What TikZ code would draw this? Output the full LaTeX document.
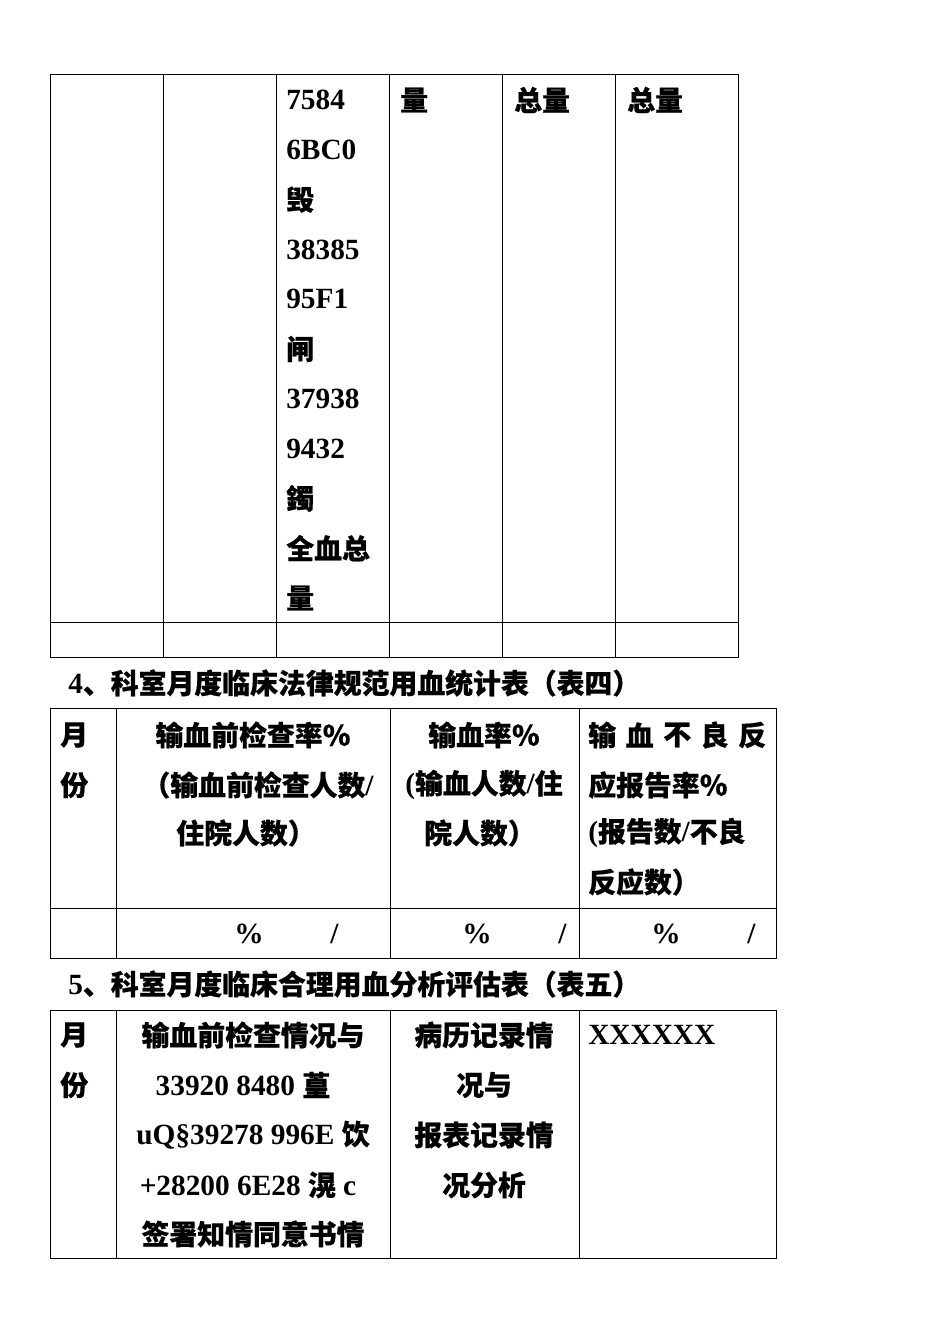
\documentclass[tikz,border=0pt]{standalone}
\usepackage{fontspec}
\setmainfont{Liberation Serif}
\newfontfamily\cjk{Noto Sans CJK SC}[FakeBold=0.5,Scale=0.95]
\newcommand\C[1]{{\cjk #1}}
\begin{document}
\begin{tikzpicture}[x=0.75pt,y=-0.75pt,
  tx/.style={anchor=west,inner sep=0pt,font=\fontsize{22}{22}\selectfont\bfseries},
  tc/.style={anchor=center,inner sep=0pt,font=\fontsize{22}{22}\selectfont\bfseries},
  ln/.style={line width=0.6pt}]
\useasboundingbox (0,0) rectangle (950,1344);
% table 1
\draw[ln] (50,74) rectangle (738,657);
\foreach \x in {163,276,389,502,615} \draw[ln] (\x,74) -- (\x,657);
\draw[ln] (50,622) -- (738,622);
\foreach \t [count=\i from 0] in {7584,6BC0,\C{毁},38385,95F1,\C{闸},37938,9432,\C{鐲},\C{全血总},\C{量}}
  \node[tx] (a\i) at (286,{100+49.8*\i}) {\t};
\node[tx] (b1) at (400,100) {\C{量}};
\node[tx] (b2) at (514,100) {\C{总量}};
\node[tx] (b3) at (627,100) {\C{总量}};
% heading 4
\node[tx] (h4) at (68,683) {4\C{、科室月度临床法律规范用血统计表（表四）}};
\draw[ln] (50,708) rectangle (776,958);
\foreach \x in {116,390,579} \draw[ln] (\x,708) -- (\x,958);
\draw[ln] (50,908) -- (776,908);
\node[tx] (m1) at (60,735) {\C{月}};
\node[tx] (m2) at (60,785) {\C{份}};
\node[tc] (c21) at (253,735) {\C{输血前检查率％}};
\node[tc] (c22) at (258,785) {\C{（输血前检查人数}/};
\node[tc] (c23) at (246,833) {\C{住院人数）}};
\node[tc] (c31) at (484,735) {\C{输血率％}};
\node[tc] (c32) at (484,785) {(\C{输血人数}/\C{住}};
\node[tc] (c33) at (480,833) {\C{院人数）}};
\foreach \t [count=\i from 0] in {输,血,不,良,反}
  \node[tx] (d\i) at ({588+37.5*\i},735) {\C{\t}};
\node[tx] (c42) at (588,785) {\C{应报告率％}};
\node[tx] (c43) at (588,833) {(\C{报告数}/\C{不良}};
\node[tx] (c44) at (588,882) {\C{反应数）}};
\foreach \p/\q [count=\i] in {234/330,462/558,651/747}{
  \node[tx] (p\i) at (\p,934) {\%};
  \node[tx] (s\i) at (\q,934) {/};}
% heading 5
\node[tx] (h5) at (68,984) {5\C{、科室月度临床合理用血分析评估表（表五）}};
\draw[ln] (50,1010) rectangle (776,1258);
\foreach \x in {116,390,579} \draw[ln] (\x,1010) -- (\x,1258);
\node[tx] (n1) at (60,1035) {\C{月}};
\node[tx] (n2) at (60,1085) {\C{份}};
\node[tc] (e1) at (253,1035) {\C{输血前检查情况与}};
\node[tc] (e2) at (243,1085) {33920 8480 \C{葟}};
\node[tc] (e3) at (253,1135) {uQ§39278 996E \C{饮}};
\node[tc] (e4) at (248,1185) {+28200 6E28 \C{滉} c};
\node[tc] (e5) at (253,1234) {\C{签署知情同意书情}};
\node[tc] (f1) at (484,1035) {\C{病历记录情}};
\node[tc] (f2) at (484,1085) {\C{况与}};
\node[tc] (f3) at (484,1135) {\C{报表记录情}};
\node[tc] (f4) at (484,1185) {\C{况分析}};
\node[tx] (g1) at (588,1035) {XXXXXX};
\end{tikzpicture}
\end{document}
